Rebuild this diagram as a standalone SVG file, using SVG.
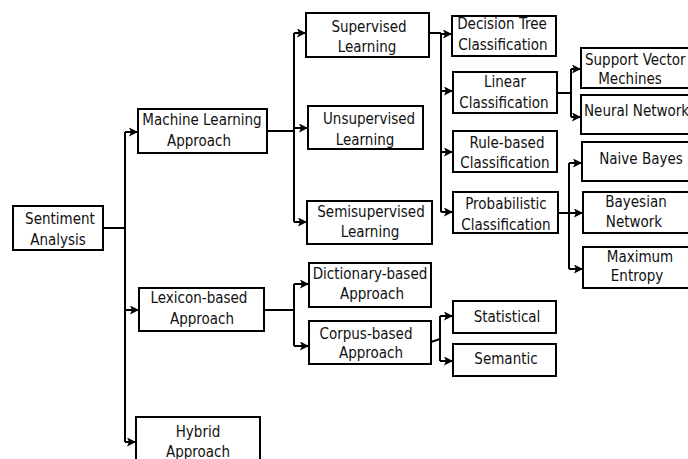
<svg xmlns="http://www.w3.org/2000/svg" width="688" height="459" viewBox="0 0 688 459">
<defs>
<marker id="ah" markerUnits="userSpaceOnUse" markerWidth="10" markerHeight="10" refX="9" refY="4.5" orient="auto">
<path d="M0,0 L9,4.5 L0,9 L2,4.5 z" fill="#000"/>
</marker>
<style>
rect{fill:#fff;stroke:#000;stroke-width:2}
text{font-family:"DejaVu Sans Condensed","DejaVu Sans",sans-serif;font-stretch:condensed;font-size:15px;fill:#111;text-anchor:middle}
.c path{fill:none;stroke:#000;stroke-width:2}
.c path.a{marker-end:url(#ah)}
</style>
</defs>
<rect x="0" y="0" width="688" height="459" style="fill:#fff;stroke:none"/>
<g class="c" id="connectors">
<path d="M103,228 H125"/>
<path d="M125,132 V442"/>
<path class="a" d="M125,132 H138"/>
<path class="a" d="M125,310 H139"/>
<path class="a" d="M125,442 H136"/>
<path d="M267,131 H294"/>
<path d="M294,33 V222"/>
<path class="a" d="M294,33 H306"/>
<path class="a" d="M294,128 H308"/>
<path class="a" d="M294,222 H307"/>
<path d="M429,33 H441"/>
<path d="M441,33 V212"/>
<path class="a" d="M441,34 H452"/>
<path class="a" d="M441,91 H453"/>
<path class="a" d="M441,152 H453"/>
<path class="a" d="M441,212 H453"/>
<path d="M557,93 H571"/>
<path d="M571,69 V117"/>
<path class="a" d="M571,69 H581"/>
<path class="a" d="M571,117 H581"/>
<path d="M558,213 H569"/>
<path d="M569,163 V269"/>
<path class="a" d="M569,163 H582"/>
<path class="a" d="M569,213 H583"/>
<path class="a" d="M569,269 H583"/>
<path d="M264,310 H294"/>
<path d="M294,284 V346"/>
<path class="a" d="M294,284 H309"/>
<path class="a" d="M294,346 H309"/>
<path d="M431,342 L440,339"/>
<path d="M440,316 V361"/>
<path class="a" d="M440,316 H453"/>
<path class="a" d="M440,361 H453"/>
</g>
<g id="sentiment"><rect x="13" y="206" width="90" height="44"/><text x="60" y="224">Sentiment</text><text x="58" y="245">Analysis</text></g>
<g id="ml"><rect x="138" y="109" width="129" height="44"/><text x="202" y="125">Machine Learning</text><text x="199" y="146">Approach</text></g>
<g id="lexicon"><rect x="139" y="288" width="125" height="43"/><text x="199" y="303">Lexicon-based</text><text x="202" y="324">Approach</text></g>
<g id="hybrid"><rect x="136" y="417" width="124" height="50"/><text x="198" y="437">Hybrid</text><text x="198" y="457">Approach</text></g>
<g id="supervised"><rect x="306" y="13" width="123" height="44"/><text x="369" y="32">Supervised</text><text x="367" y="52">Learning</text></g>
<g id="unsupervised"><rect x="308" y="106" width="115" height="43"/><text x="369" y="124">Unsupervised</text><text x="365" y="145">Learning</text></g>
<g id="semisupervised"><rect x="307" y="201" width="125" height="43"/><text x="371" y="217">Semisupervised</text><text x="370" y="237">Learning</text></g>
<g id="decisiontree"><rect x="452" y="16" width="104" height="40"/><text x="502" y="29">Decision Tree</text><text x="503" y="50">Classification</text></g>
<g id="linear"><rect x="453" y="72" width="104" height="41"/><text x="505" y="87">Linear</text><text x="504" y="108">Classification</text></g>
<g id="rulebased"><rect x="453" y="131" width="104" height="41"/><text x="507" y="148">Rule-based</text><text x="505" y="168">Classification</text></g>
<g id="probabilistic"><rect x="453" y="192" width="105" height="41"/><text x="506" y="209">Probabilistic</text><text x="506" y="230">Classification</text></g>
<g id="svm"><rect x="581" y="48" width="112" height="40"/><text x="585" y="65" style="text-anchor:start">Support Vector</text><text x="630" y="84">Mechines</text></g>
<g id="nn"><rect x="581" y="95" width="112" height="39"/><text x="584" y="116" style="text-anchor:start">Neural Network</text></g>
<g id="nb"><rect x="582" y="142" width="112" height="39"/><text x="641" y="164">Naive Bayes</text></g>
<g id="bn"><rect x="583" y="192" width="112" height="41"/><text x="636" y="207">Bayesian</text><text x="634" y="227">Network</text></g>
<g id="me"><rect x="583" y="247" width="112" height="41"/><text x="640" y="262">Maximum</text><text x="637" y="281">Entropy</text></g>
<g id="dictionary"><rect x="309" y="263" width="122" height="44"/><text x="370" y="279">Dictionary-based</text><text x="372" y="299">Approach</text></g>
<g id="corpus"><rect x="309" y="321" width="122" height="43"/><text x="366" y="339">Corpus-based</text><text x="371" y="358">Approach</text></g>
<g id="statistical"><rect x="453" y="301" width="103" height="32"/><text x="507" y="322">Statistical</text></g>
<g id="semantic"><rect x="453" y="344" width="103" height="32"/><text x="506" y="364">Semantic</text></g>
</svg>
